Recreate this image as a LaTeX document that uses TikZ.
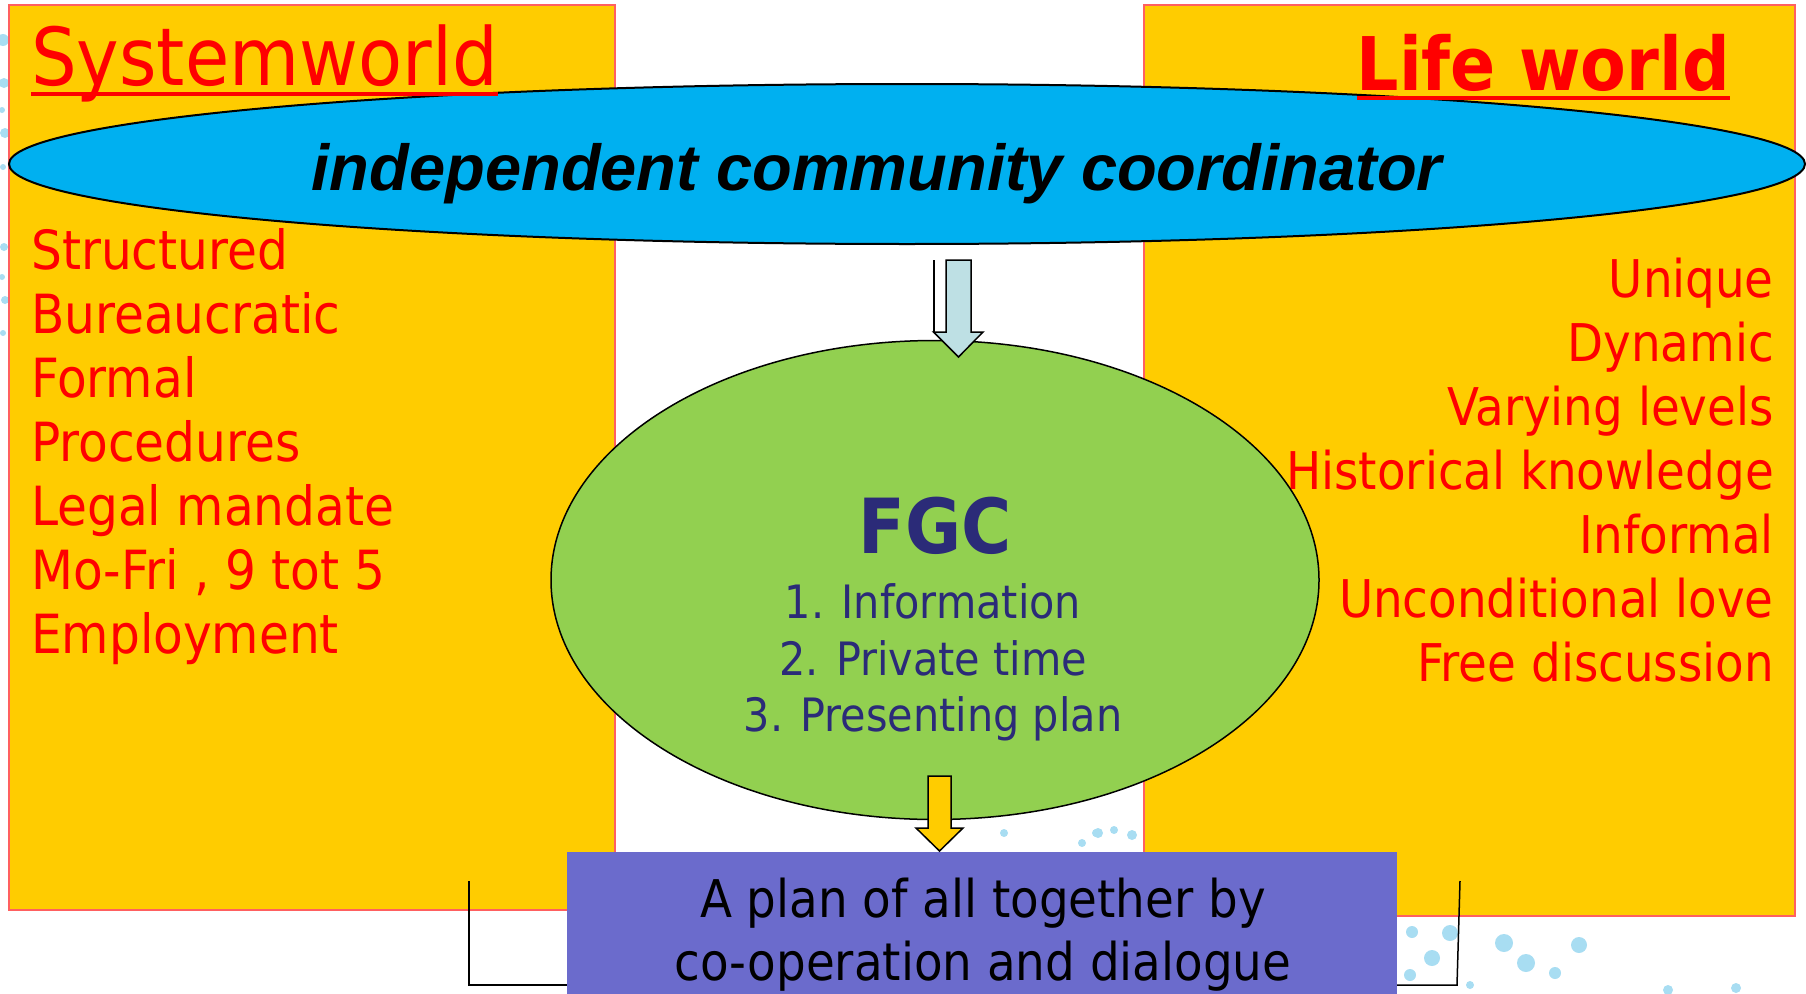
\documentclass[tikz,border=0pt]{standalone}
\usepackage{fontspec}
\setmainfont{DejaVu Sans Condensed}
\newfontfamily\arialfont{Liberation Sans}
\usetikzlibrary{shapes.geometric}

\definecolor{worldyellow}{HTML}{FFCC00}
\definecolor{worldedge}{HTML}{FF6060}
\definecolor{coordblue}{HTML}{00B0F0}
\definecolor{fgcgreen}{HTML}{92D050}
\definecolor{fgcnavy}{HTML}{2B2B78}
\definecolor{planpurple}{HTML}{6B6BCC}
\definecolor{arrowblue}{HTML}{BEE0E4}
\definecolor{speckblue}{HTML}{A8DDF2}

\tikzset{
  world/.style={draw=worldedge, fill=worldyellow, line width=1.5pt, inner sep=0},
  sysitem/.style={anchor=base west, inner sep=0, text=red, font=\fontsize{54}{62}\selectfont},
  lifeitem/.style={anchor=base east, inner sep=0, text=red, font=\fontsize{52}{62}\selectfont},
  fgcitem/.style={anchor=base, inner sep=0, text=fgcnavy, font=\fontsize{46}{56}\selectfont},
  planitem/.style={anchor=base, inner sep=0, font=\fontsize{52}{60}\selectfont},
}

\begin{document}
\begin{tikzpicture}[x=1pt,y=-1pt]
    \useasboundingbox (0,0) rectangle (1806,993);
    \clip (0,0) rectangle (1806,993);

    % background specks
    \foreach \px/\py/\r in {3/40/6, 4/83/5, 2/110/3, 5/133/5, 3/167/3, 4/247/4, 2/277/3, 5/300/4, 3/333/3,
        1004/833/4, 1082/843/4, 1096/833/4, 1114/830/4, 1132/835/5, 1098/833/5,
        1412/932/6, 1450/933/8, 1432/958/8, 1504/943/9, 1526/963/9, 1579/945/8,
        1555/973/6, 1410/975/6, 1470/985/4, 1668/990/5, 1736/988/5}
        \fill[speckblue] (\px,\py) circle (\r);

    % the two worlds
    \node[world, minimum width=606pt, minimum height=905pt] (sysbox) at (312,457.5) {};
    \node[world, minimum width=651pt, minimum height=911pt] (lifebox) at (1469.5,460.5) {};

    % coordinator across both
    \node[ellipse, draw, line width=2pt, fill=coordblue, minimum width=1796pt, minimum height=160pt, inner sep=0] (coord) at (907,164) {};
    \node[anchor=base, inner sep=0, font=\arialfont\bfseries\itshape\fontsize{65}{70}\selectfont] (coordtext) at (877,190) {independent community coordinator};

    % titles
    \node[anchor=base west, inner sep=0, text=red, font=\fontsize{80}{90}\selectfont] (systitle) at (31,85) {Systemworld};
    \node[anchor=base east, inner sep=0, text=red, font=\bfseries\fontsize{74}{90}\selectfont] (lifetitle) at (1730,90) {Life world};
    \draw[red, line width=4pt] ([yshift=-9pt]systitle.base west) -- ([yshift=-9pt]systitle.base east);
    \draw[red, line width=4pt] ([yshift=-8pt]lifetitle.base west) -- ([yshift=-8pt]lifetitle.base east);

    % systemworld
    \node[sysitem] (sys1) at (31,269) {Structured};
    \node[sysitem] (sys2) at (31,333) {Bureaucratic};
    \node[sysitem] (sys3) at (31,397) {Formal};
    \node[sysitem] (sys4) at (31,461) {Procedures};
    \node[sysitem] (sys5) at (31,525) {Legal mandate};
    \node[sysitem] (sys6) at (31,589) {Mo-Fri , 9 tot 5};
    \node[sysitem] (sys7) at (31,653) {Employment};

    % life world
    \node[lifeitem] (life1) at (1774,297) {Unique};
    \node[lifeitem] (life2) at (1774,361) {Dynamic};
    \node[lifeitem] (life3) at (1774,425) {Varying levels};
    \node[lifeitem] (life4) at (1774,489) {Historical knowledge};
    \node[lifeitem] (life5) at (1774,553) {Informal};
    \node[lifeitem] (life6) at (1774,617) {Unconditional love};
    \node[lifeitem] (life7) at (1774,681) {Free discussion};

    % the conference
    \node[ellipse, draw, line width=1.5pt, fill=fgcgreen, minimum width=768pt, minimum height=479pt, inner sep=0] (fgc) at (935,580) {};
    \node[anchor=base, inner sep=0, text=fgcnavy, font=\bfseries\fontsize{76}{80}\selectfont] (fgctitle) at (935,553) {FGC};
    \node[fgcitem] (fgc1) at (933,618) {1. Information};
    \node[fgcitem] (fgc2) at (933,675) {2. Private time};
    \node[fgcitem] (fgc3) at (933,731) {3. Presenting plan};

    % block arrows
    \coordinate (intop) at (958.5,260);
    \coordinate (outtop) at (939.5,776);
    \draw[fill=arrowblue, line width=1.5pt] ([xshift=-12.5pt]intop) -- ++(25,0) -- ++(0,72) -- ++(12,0) -- ++(-24.5,25) -- ++(-25,-25) -- ++(12.5,0) -- cycle;
    \draw[line width=1.5pt] ([xshift=-24.5pt]intop) -- ++(0,72);

    % result
    \node[fill=planpurple, minimum width=830pt, minimum height=160pt, inner sep=0] (plan) at (982,932) {};
    \node[planitem] (plan1) at (983,917) {A plan of all together by};
    \node[planitem] (plan2) at (983,980) {co-operation and dialogue};

    \draw[fill=worldyellow, line width=1.5pt] ([xshift=-11.5pt]outtop) -- ++(23,0) -- ++(0,52) -- ++(12,0) -- ++(-23.5,23) -- ++(-23.5,-23) -- ++(12,0) -- cycle;

    \coordinate (lbrack) at (469,881);
    \coordinate (lfoot) at (469,985);
    \coordinate (rbrack) at (1460,881);
    \coordinate (rfoot) at (1457,985);
    \draw[line width=1.5pt] (lbrack) -- (lfoot) -- (lfoot -| plan.west);
    \draw[line width=1.5pt] (rbrack) -- (rfoot) -- (rfoot -| plan.east);
\end{tikzpicture}
\end{document}
